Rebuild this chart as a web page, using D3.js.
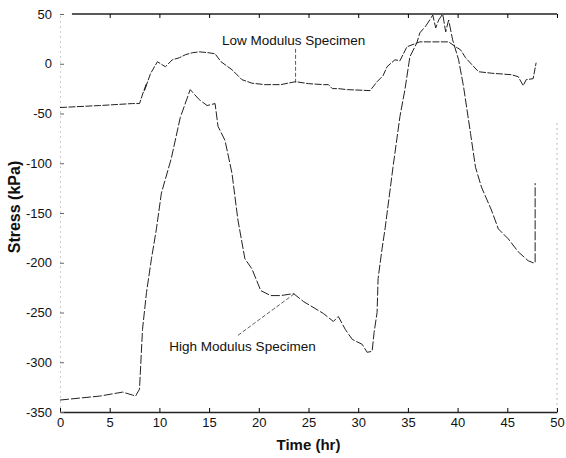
<!DOCTYPE html>
<html>
<head>
<meta charset="utf-8">
<script src="https://cdn.jsdelivr.net/npm/d3@7"></script>
<style>
  body { margin: 0; background: #fff; }
  text { font-family: "Liberation Sans", Arial, sans-serif; fill: #111; }
</style>
</head>
<body>
<div id="chart"></div>
<script>
// values
var xTicks = [0, 5, 10, 15, 20, 25, 30, 35, 40, 45, 50];
var yTicks = [50, 0, -50, -100, -150, -200, -250, -300, -350];

var lowTime   = [0, 4, 7.3, 8.0, 8.4, 8.7, 8.5, 9.1, 9.8, 10.6, 11.3, 12.0, 12.6, 13.3, 14.0, 15.0, 15.6, 16.2, 17.3, 18.3, 19.3, 20.6, 22.2, 23.7, 25.0, 26.5, 27.0, 27.4, 28.0, 28.9, 31.2, 31.9, 32.5, 32.9, 33.7, 34.2, 34.9, 36.2, 37.5, 39.1, 39.8, 40.3, 40.8, 42.1, 43.4, 45.4, 46.1, 46.6, 46.9, 47.6, 47.9];
var lowStress = [-44, -42, -40, -40, -28, -20, -27, -10, 2, -3, 4, 6, 9, 11, 12, 11, 10, 2, -6, -16, -19.5, -21, -21, -18, -20, -21, -21, -25, -25, -26, -27, -18, -12, -3, 4, 3, 17, 22, 22, 22, 17, 14, 6, -8, -9.5, -11, -13, -22, -16, -15, 1];

var highTime   = [0, 2, 4, 6.3, 7.3, 7.6, 8.0, 8.3, 8.7, 9.2, 9.7, 10.2, 11.2, 12.1, 13.1, 14.0, 14.8, 15.6, 15.9, 16.6, 17.3, 17.9, 18.6, 19.3, 20.2, 21.2, 22.2, 23.5, 24.5, 26.5, 27.5, 28.0, 28.7, 29.4, 30.4, 30.9, 31.4, 31.6, 31.9, 32.0, 32.4, 32.7, 33.5, 34.2, 34.7, 35.2, 35.9, 36.2, 36.8, 37.2, 37.5, 37.8, 38.1, 38.5, 38.8, 39.1, 39.5, 40.1, 40.6, 41.3, 41.8, 42.4, 43.4, 44.1, 45.1, 46.1, 47.1, 47.6, 47.8, 47.8];
var highStress = [-338, -336, -334, -330, -333, -334, -327, -267, -230, -196, -166, -130, -95, -54, -26, -36, -42, -40, -63, -77, -110, -157, -196, -206, -228, -233, -233, -231, -239, -251, -259, -254, -267, -277, -282, -290, -289, -270, -250, -216, -186, -166, -104, -53, -26, 7, 21, 31, 38, 44, 49, 36, 44, 50, 32, 44, 24, 4, -23, -70, -104, -124, -147, -166, -176, -189, -198, -200, -200, -120];

// annotation labels and their leader lines (data units)
var labels = [
  {text: "Low Modulus Specimen", x: 16.3, y: 19},
  {text: "High Modulus Specimen", x: 11, y: -289}
];
var leaders = [
  [[23.7, 15], [23.7, -19]],
  [[17.9, -273], [23.6, -231]]
];

var margin = {top: 14, right: 5, bottom: 46, left: 60},
    width = 566 - margin.left - margin.right,
    height = 458 - margin.top - margin.bottom;

var svg = d3.select("#chart")
  .append("svg")
    .attr("width", 566)
    .attr("height", 458)
  .append("g")
    .attr("transform", "translate(" + margin.left + "," + margin.top + ")");

var x = d3.scaleLinear().domain([0, 50]).range([0, width - 4]);
var y = d3.scaleLinear().domain([-350, 50]).range([height, 0]);
var fmt = function(d) { return String(d); };

// bottom axis, ticks pointing in
var xAxis = svg.append("g")
  .attr("transform", "translate(0," + height + ")")
  .call(d3.axisBottom(x).tickValues(xTicks).tickSizeInner(-4).tickSizeOuter(0).tickPadding(6).tickFormat(fmt));
xAxis.select(".domain").attr("stroke", "#222").attr("stroke-width", 1.3);
xAxis.selectAll("text").style("font-size", "13px");

// top frame line
var topAxis = svg.append("g")
  .call(d3.axisTop(x).tickValues(xTicks.slice(1)).tickSizeInner(-4).tickSizeOuter(0).tickFormat(""));
topAxis.select(".domain").attr("d", "M" + x(1.2) + ",0H" + x(50)).attr("stroke", "#222").attr("stroke-width", 1.3);

// left axis, faint dotted
var yAxis = svg.append("g")
  .call(d3.axisLeft(y).tickValues(yTicks).tickSizeInner(-4).tickSizeOuter(0).tickPadding(8).tickFormat(fmt));
yAxis.select(".domain").attr("stroke", "#999").attr("stroke-dasharray", "1,4");
yAxis.selectAll(".tick line").attr("stroke", "#666");
yAxis.selectAll("text").style("font-size", "13px");

// right edge, dotted
svg.append("line")
  .attr("x1", x(50)).attr("x2", x(50))
  .attr("y1", y(-60)).attr("y2", y(-350))
  .attr("stroke", "#777").attr("stroke-dasharray", "1,4");

var line = d3.line()
  .x(function(d) { return x(d[0]); })
  .y(function(d) { return y(d[1]); });

var lowData = lowTime.map(function(t, i) { return [t, lowStress[i]]; });
var highData = highTime.map(function(t, i) { return [t, highStress[i]]; });

svg.append("path")
  .datum(lowData)
  .attr("d", line)
  .attr("fill", "none")
  .attr("stroke", "#222")
  .attr("stroke-width", 1)
  .attr("stroke-dasharray", "7,1.5");

svg.append("path")
  .datum(highData)
  .attr("d", line)
  .attr("fill", "none")
  .attr("stroke", "#222")
  .attr("stroke-width", 1)
  .attr("stroke-dasharray", "9,2");

leaders.forEach(function(l) {
  svg.append("path")
    .datum(l)
    .attr("d", line)
    .attr("fill", "none")
    .attr("stroke", "#333")
    .attr("stroke-width", 0.8)
    .attr("stroke-dasharray", "4,2");
});

labels.forEach(function(l) {
  svg.append("text")
    .attr("x", x(l.x))
    .attr("y", y(l.y))
    .style("font-size", "13.5px")
    .text(l.text);
});

// axis titles
svg.append("text")
  .attr("x", x(25))
  .attr("y", height + 38)
  .attr("text-anchor", "middle")
  .style("font-size", "15px")
  .style("font-weight", "bold")
  .text("Time (hr)");

svg.append("text")
  .attr("transform", "rotate(-90)")
  .attr("x", -y(-144))
  .attr("y", -margin.left + 20)
  .attr("text-anchor", "middle")
  .style("font-size", "16px")
  .style("font-weight", "bold")
  .text("Stress (kPa)");
</script>
</body>
</html>
